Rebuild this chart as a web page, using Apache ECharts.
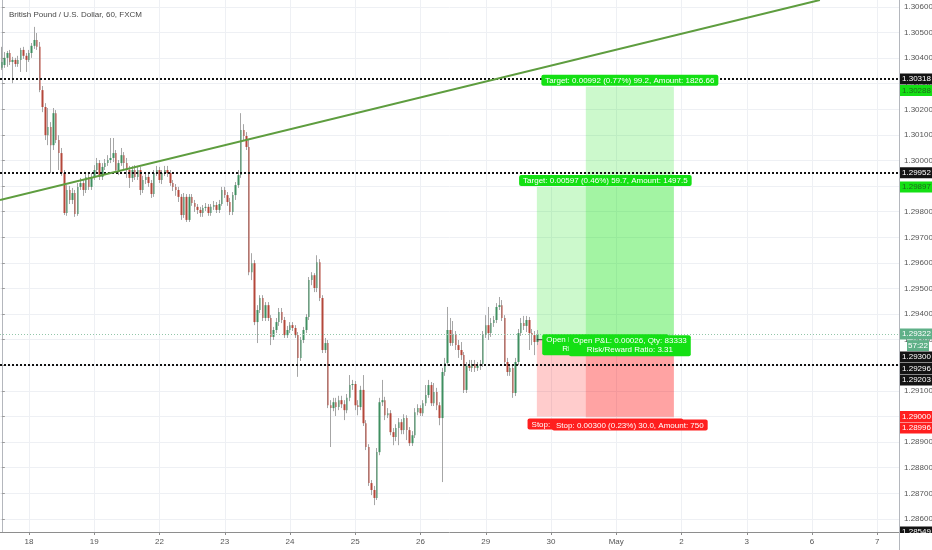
<!DOCTYPE html>
<html><head><meta charset="utf-8">
<script src="https://cdn.jsdelivr.net/npm/echarts@6/dist/echarts.min.js"></script>
<style>html,body{margin:0;padding:0;background:#fff}#c{width:932px;height:550px}</style>
</head><body><div id="c"></div>
<script>
const chartTitle = 'British Pound / U.S. Dollar, 60, FXCM';
// x axis: hourly bar index; day boundaries and their labels
const dayTicks = [10, 34, 58, 82, 106, 130, 154, 178, 202, 226, 250, 274, 298, 322];
const dayLabels = ['18', '19', '22', '23', '24', '25', '26', '29', '30', 'May', '2', '3', '6', '7'];
const priceTicks = [1.286,1.287,1.288,1.289,1.290,1.291,1.292,1.293,1.294,1.295,1.296,1.297,1.298,1.299,1.300,1.301,1.302,1.303,1.304,1.305,1.306];
const xRange = [-0.67, 330.0];
const yRange = [1.28549, 1.30627];

const opens = [1.30362,1.30373,1.30401,1.30420,1.30385,1.30393,1.30377,1.30393,1.30432,1.30409,
1.30393,1.30420,1.30448,1.30471,1.30444,1.30275,1.30209,1.30099,1.30131,1.30060,
1.30185,1.30080,1.30029,1.29951,1.29795,1.29885,1.29846,1.29873,1.29791,1.29897,
1.29912,1.29885,1.29936,1.29897,1.29936,1.29963,1.29990,1.29936,1.29975,1.29990,
1.30002,1.30010,1.30029,1.29963,1.29990,1.30021,1.29990,1.29963,1.29932,1.29963,
1.29936,1.29963,1.29885,1.29924,1.29936,1.29912,1.29869,1.29951,1.29963,1.29924,
1.29951,1.29963,1.29951,1.29912,1.29897,1.29885,1.29858,1.29787,1.29858,1.29768,
1.29858,1.29834,1.29819,1.29807,1.29795,1.29815,1.29819,1.29795,1.29819,1.29826,
1.29807,1.29830,1.29885,1.29865,1.29838,1.29799,1.29865,1.29904,1.29943,1.30119,
1.30096,1.30053,1.29564,1.29599,1.29369,1.29416,1.29463,1.29385,1.29435,1.29385,
1.29311,1.29338,1.29369,1.29408,1.29377,1.29318,1.29338,1.29357,1.29346,1.29318,
1.29229,1.29299,1.29338,1.29389,1.29533,1.29552,1.29502,1.29603,1.29463,1.29260,
1.29287,1.29044,1.29033,1.29056,1.29037,1.29064,1.29048,1.29025,1.29073,1.29123,
1.29127,1.29044,1.29037,1.29104,1.28974,1.28881,1.28740,1.28713,1.28682,1.28861,
1.29056,1.29064,1.29005,1.29013,1.28939,1.28920,1.28955,1.28978,1.28947,1.28994,
1.28947,1.28896,1.28927,1.29017,1.29033,1.29013,1.29052,1.29084,1.29123,1.29052,
1.29096,1.29044,1.28994,1.29174,1.29209,1.29338,1.29287,1.29318,1.29279,1.29260,
1.29240,1.29104,1.29198,1.29190,1.29205,1.29190,1.29198,1.29205,1.29318,1.29357,
1.29326,1.29365,1.29377,1.29428,1.29435,1.29385,1.29213,1.29174,1.29190,1.29092,
1.29213,1.29326,1.29365,1.29354,1.29377,1.29326,1.29318,1.29291];

const closes = [1.30385,1.30401,1.30420,1.30385,1.30393,1.30377,1.30393,1.30432,1.30409,1.30393,
1.30420,1.30448,1.30471,1.30444,1.30275,1.30209,1.30099,1.30131,1.30060,1.30185,
1.30080,1.30029,1.29951,1.29795,1.29885,1.29846,1.29873,1.29791,1.29897,1.29912,
1.29885,1.29936,1.29897,1.29936,1.29963,1.29990,1.29936,1.29975,1.29990,1.30002,
1.30010,1.30029,1.29963,1.29990,1.30021,1.29990,1.29963,1.29932,1.29963,1.29936,
1.29963,1.29885,1.29924,1.29936,1.29912,1.29869,1.29951,1.29963,1.29924,1.29951,
1.29963,1.29951,1.29912,1.29897,1.29885,1.29858,1.29787,1.29858,1.29768,1.29858,
1.29834,1.29819,1.29807,1.29795,1.29815,1.29819,1.29795,1.29819,1.29826,1.29807,
1.29830,1.29885,1.29865,1.29838,1.29799,1.29865,1.29904,1.29943,1.30119,1.30096,
1.30053,1.29564,1.29599,1.29369,1.29416,1.29463,1.29385,1.29435,1.29385,1.29311,
1.29338,1.29369,1.29408,1.29377,1.29318,1.29338,1.29357,1.29346,1.29318,1.29229,
1.29299,1.29338,1.29389,1.29533,1.29552,1.29502,1.29603,1.29463,1.29260,1.29287,
1.29044,1.29033,1.29056,1.29037,1.29064,1.29048,1.29025,1.29073,1.29123,1.29127,
1.29044,1.29037,1.29104,1.28974,1.28881,1.28740,1.28713,1.28682,1.28861,1.29056,
1.29064,1.29005,1.29013,1.28939,1.28920,1.28955,1.28978,1.28947,1.28994,1.28947,
1.28896,1.28927,1.29017,1.29033,1.29013,1.29052,1.29084,1.29123,1.29052,1.29096,
1.29044,1.28994,1.29174,1.29209,1.29338,1.29287,1.29318,1.29279,1.29260,1.29240,
1.29104,1.29198,1.29190,1.29205,1.29190,1.29198,1.29205,1.29318,1.29357,1.29326,
1.29365,1.29377,1.29428,1.29435,1.29385,1.29213,1.29174,1.29190,1.29092,1.29213,
1.29326,1.29365,1.29354,1.29377,1.29326,1.29318,1.29291,1.29322];

const lows = [1.30354,1.30362,1.30366,1.30373,1.30302,1.30366,1.30366,1.30346,1.30397,1.30346,
1.30385,1.30401,1.30436,1.30432,1.30267,1.30189,1.30080,1.30060,1.29951,1.30041,
1.30068,1.29963,1.29940,1.29787,1.29784,1.29830,1.29830,1.29780,1.29784,1.29885,
1.29862,1.29873,1.29885,1.29885,1.29924,1.29951,1.29924,1.29924,1.29963,1.29979,
1.29990,1.29994,1.29951,1.29943,1.29979,1.29963,1.29932,1.29893,1.29916,1.29924,
1.29924,1.29865,1.29873,1.29908,1.29897,1.29854,1.29858,1.29940,1.29912,1.29908,
1.29940,1.29936,1.29901,1.29881,1.29862,1.29838,1.29768,1.29776,1.29760,1.29760,
1.29823,1.29799,1.29791,1.29780,1.29780,1.29803,1.29784,1.29784,1.29807,1.29795,
1.29795,1.29823,1.29854,1.29823,1.29787,1.29787,1.29846,1.29893,1.29932,1.30080,
1.30041,1.29552,1.29533,1.29357,1.29287,1.29404,1.29373,1.29373,1.29373,1.29279,
1.29299,1.29326,1.29354,1.29365,1.29307,1.29307,1.29326,1.29334,1.29307,1.29155,
1.29217,1.29287,1.29326,1.29377,1.29513,1.29486,1.29486,1.29451,1.29248,1.29248,
1.29033,1.28881,1.29021,1.29002,1.29025,1.29033,1.28986,1.29013,1.29060,1.29104,
1.29025,1.29005,1.29025,1.28963,1.28869,1.28729,1.28693,1.28654,1.28674,1.28849,
1.29041,1.28986,1.28994,1.28927,1.28888,1.28904,1.28888,1.28931,1.28931,1.28908,
1.28885,1.28885,1.28916,1.29005,1.29002,1.29002,1.29041,1.29073,1.29041,1.29041,
1.29025,1.28966,1.28744,1.29159,1.29198,1.29276,1.29276,1.29260,1.29229,1.29221,
1.29092,1.29092,1.29178,1.29174,1.29174,1.29178,1.29182,1.29194,1.29307,1.29299,
1.29311,1.29350,1.29365,1.29416,1.29373,1.29198,1.29159,1.29159,1.29073,1.29080,
1.29201,1.29315,1.29338,1.29330,1.29260,1.29279,1.29240,1.29279];

const highs = [1.30444,1.30424,1.30428,1.30432,1.30405,1.30401,1.30409,1.30440,1.30444,1.30420,
1.30432,1.30459,1.30522,1.30498,1.30463,1.30291,1.30224,1.30205,1.30150,1.30205,
1.30197,1.30099,1.30049,1.29963,1.29904,1.29901,1.29893,1.29885,1.29912,1.29932,
1.29924,1.29947,1.29951,1.29951,1.29982,1.30010,1.30002,1.29990,1.30006,1.30021,
1.30088,1.30088,1.30041,1.30002,1.30049,1.30033,1.30010,1.29979,1.29979,1.29982,
1.29979,1.29975,1.29940,1.29951,1.29947,1.29924,1.29963,1.29979,1.29975,1.29963,
1.29979,1.29979,1.29963,1.29924,1.29908,1.29897,1.29869,1.29873,1.29869,1.29869,
1.29869,1.29846,1.29830,1.29819,1.29826,1.29834,1.29830,1.29830,1.29842,1.29838,
1.29846,1.29897,1.29897,1.29877,1.29854,1.29877,1.29916,1.29963,1.30185,1.30142,
1.30111,1.30080,1.29638,1.29611,1.29435,1.29474,1.29474,1.29447,1.29447,1.29396,
1.29350,1.29385,1.29424,1.29424,1.29389,1.29354,1.29369,1.29369,1.29357,1.29330,
1.29311,1.29350,1.29400,1.29545,1.29564,1.29560,1.29630,1.29615,1.29474,1.29307,
1.29299,1.29064,1.29073,1.29073,1.29081,1.29081,1.29064,1.29088,1.29162,1.29143,
1.29139,1.29064,1.29120,1.29162,1.28986,1.28892,1.28752,1.28729,1.28877,1.29073,
1.29143,1.29077,1.29033,1.29025,1.28955,1.28970,1.28994,1.28990,1.29009,1.29005,
1.28959,1.28943,1.29033,1.29048,1.29044,1.29064,1.29123,1.29143,1.29135,1.29131,
1.29112,1.29056,1.29190,1.29229,1.29428,1.29385,1.29373,1.29334,1.29299,1.29291,
1.29252,1.29213,1.29221,1.29221,1.29221,1.29213,1.29221,1.29334,1.29396,1.29428,
1.29385,1.29393,1.29443,1.29467,1.29455,1.29396,1.29229,1.29205,1.29201,1.29229,
1.29342,1.29385,1.29393,1.29393,1.29389,1.29342,1.29334,1.29338];

// drawings
const trendLine = [[-0.67, 1.29846], [300.9, 1.30627]];
const levelLines = [1.30318, 1.29952, 1.29203];
const lastPrice = 1.29322;
const timerText = '57:22';
const toolStart = [196.8, 214.8];
const toolEnd = [247.2, 247.2];
const toolEntry = [1.29300, 1.29296];
const toolTarget = [1.29897, 1.30288];
const toolStop = [1.29000, 1.28996];
const targetText = ['Target: 0.00597 (0.46%) 59.7, Amount: 1497.5', 'Target: 0.00992 (0.77%) 99.2, Amount: 1826.66'];
const stopText = ['Stop: 0.00300 (0.23%) 30.0, Amount: 750', 'Stop: 0.00300 (0.23%) 30.0, Amount: 750'];
const openText = [['Open P&L: 0.00022, Qty: 250000', 'Risk/Reward Ratio: 1.99'], ['Open P&L: 0.00026, Qty: 83333', 'Risk/Reward Ratio: 3.31']];
const markPrices = [1.30318, 1.30288, 1.29952, 1.29897, 1.29322, 1.29322, 1.29300, 1.29296, 1.29203, 1.29000, 1.28996, 1.28549];
const markKinds = ['level', 'target', 'level', 'target', 'last', 'timer', 'entry', 'entry', 'level', 'stop', 'stop', 'level'];

const FONT = "'Liberation Sans', Arial, sans-serif";
const NARROW = "'Liberation Sans Narrow', 'Liberation Sans', Arial, sans-serif";
const UP = '#3f8f60', DOWN = '#b4473a', WICK = '#a6a6a6';
const GREEN = '#14e014', RED = '#ff1f1f', DARK = '#131313', LASTC = '#5fb088';

const idx = opens.map((_, k) => k);
const fullCandles = idx.map(k => [k, opens[k], closes[k], lows[k], highs[k]]);
const bodyCandles = idx.map(k => [k, opens[k], closes[k], Math.min(opens[k], closes[k]), Math.max(opens[k], closes[k])]);

const zoneData = [];
for (let t = 0; t < toolStart.length; t++) {
  zoneData.push([{coord: [toolStart[t], toolTarget[t]], itemStyle: {color: 'rgba(0,225,0,0.2)'}}, {coord: [toolEnd[t], toolEntry[t]]}]);
  zoneData.push([{coord: [toolStart[t], toolEntry[t]], itemStyle: {color: 'rgba(255,0,0,0.2)'}}, {coord: [toolEnd[t], toolStop[t]]}]);
}

const option = {
  animation: false,
  backgroundColor: '#ffffff',
  title: {text: chartTitle, left: 4, top: 6, textStyle: {fontSize: 8, color: '#474747', fontWeight: 'normal', fontFamily: NARROW}},
  grid: {left: 0, right: 33, top: 0, bottom: 18, containLabel: false, outerBoundsMode: 'none'},
  xAxis: {
    type: 'value', min: xRange[0], max: xRange[1],
    axisLine: {show: true, lineStyle: {color: '#8e8e8e', width: 1}},
    axisTick: {show: true, customValues: dayTicks, length: 3, lineStyle: {color: '#8e8e8e'}},
    axisLabel: {customValues: dayTicks, formatter: v => dayLabels[dayTicks.indexOf(Math.round(v))] || '', color: '#555', fontSize: 8, fontFamily: NARROW, margin: 6},
    splitLine: {show: true, lineStyle: {color: '#eef0f4', width: 1}}
  },
  yAxis: {
    type: 'value', position: 'right', min: yRange[0], max: yRange[1], scale: true,
    axisLine: {show: true, lineStyle: {color: '#b4b7bd', width: 1}},
    axisTick: {show: true, customValues: priceTicks, length: 3, lineStyle: {color: '#9a9a9a'}},
    axisLabel: {customValues: priceTicks, formatter: v => v.toFixed(5), color: '#555', fontSize: 8, fontFamily: NARROW, margin: 5},
    splitLine: {show: true, lineStyle: {color: '#eef0f4', width: 1}}
  },
  series: [
    {name: 'zones', type: 'line', data: [], z: 1, silent: true,
      markArea: {silent: true, data: zoneData}},
    {name: 'wicks', type: 'candlestick', data: fullCandles, z: 2, barWidth: 0.01, silent: true,
      encode: {x: 0, y: [1, 2, 3, 4]},
      itemStyle: {color: WICK, color0: WICK, borderColor: WICK, borderColor0: WICK, borderWidth: 1}},
    {name: 'bodies', type: 'candlestick', data: bodyCandles, z: 3, barWidth: 2, silent: true,
      encode: {x: 0, y: [1, 2, 3, 4]},
      itemStyle: {color: UP, color0: DOWN, borderColor: UP, borderColor0: DOWN, borderWidth: 0}},
    {name: 'levels', type: 'line', data: [], z: 4, silent: true,
      markLine: {silent: true, precision: 5, symbol: ['none', 'none'], label: {show: false},
        data: levelLines.map(v => ({yAxis: v, lineStyle: {color: '#111', width: 2, type: [2, 2]}}))
          .concat([{yAxis: lastPrice, lineStyle: {color: '#93c6aa', width: 1, type: [1, 2]}}])}},
    {name: 'trend', type: 'line', data: trendLine, z: 5, silent: true, symbol: 'none',
      lineStyle: {color: '#5e9d3f', width: 2}}
  ]
};

const chart = echarts.init(document.getElementById('c'), null, {renderer: 'canvas'});
chart.setOption(option);

const P = (x, y) => chart.convertToPixel({gridIndex: 0}, [x, y]);
const Y = v => chart.convertToPixel({yAxisIndex: 0}, v);
const g = [];
for (let t = 0; t < toolStart.length; t++) {
  const xa = P(toolStart[t], toolEntry[t])[0], xb = P(toolEnd[t], toolEntry[t])[0];
  const cx = (xa + xb) / 2;
  const base = {align: 'center', fill: '#fff', font: '8px ' + FONT, padding: [2, 4, 1, 4], borderRadius: 2};
  g.push({type: 'text', z: 50 + t * 3, silent: true, style: Object.assign({}, base, {text: targetText[t], x: cx, y: Y(toolTarget[t]) - 1, verticalAlign: 'bottom', backgroundColor: GREEN})});
  g.push({type: 'text', z: 51 + t * 3, silent: true, style: Object.assign({}, base, {text: stopText[t], x: cx, y: Y(toolStop[t]) + 2, verticalAlign: 'top', backgroundColor: RED})});
  g.push({type: 'text', z: 52 + t * 3, silent: true, style: Object.assign({}, base, {text: openText[t].join('\n'), x: cx, y: Y(toolEntry[t]) + 5, verticalAlign: 'middle', lineHeight: 9, backgroundColor: GREEN})});
}
// connector from last bar to the info box
const ey = Y(toolEntry[0]);
const ex = P(toolStart[0], toolEntry[0])[0];
g.push({type: 'line', z: 49, silent: true, shape: {x1: ex, y1: ey, x2: ex + 9, y2: ey}, style: {stroke: '#333', lineWidth: 1}});

// price-axis labels, stacked to avoid overlap
const axX = P(xRange[1], yRange[0])[0];
let prevY = -100;
const styles = {level: [DARK, '#fff'], entry: [DARK, '#fff'], target: [GREEN, '#1d6b1d'], stop: [RED, '#fff'], last: [LASTC, '#fff'], timer: [LASTC, '#fff']};
for (let k = 0; k < markPrices.length; k++) {
  let yy = Math.max(Y(markPrices[k]), prevY + 11.5);
  prevY = yy;
  const kind = markKinds[k];
  const [bg, fg] = styles[kind];
  const txt = kind === 'timer' ? timerText : markPrices[k].toFixed(5);
  const bx = kind === 'timer' ? axX + 8 : axX + 1;
  const bw = kind === 'timer' ? 22 : 33;
  g.push({type: 'rect', z: 60, silent: true, shape: {x: bx, y: yy - 5.5, width: bw, height: 11}, style: {fill: bg}});
  g.push({type: 'text', z: 61, silent: true, style: {text: txt, x: bx + bw / 2, y: yy, align: 'center', verticalAlign: 'middle', fill: fg, font: '8px ' + NARROW}});
}
// bottom-right corner below the plot and the axis line continuing down
const bottomY = Y(yRange[0]);
g.push({type: 'rect', z: 62, silent: true, shape: {x: axX + 0.5, y: bottomY + 1, width: 40, height: 30}, style: {fill: '#fff'}});
g.push({type: 'line', z: 63, silent: true, shape: {x1: axX + 0.5, y1: 0, x2: axX + 0.5, y2: 550}, style: {stroke: '#b4b7bd', lineWidth: 1}});
chart.setOption({graphic: g});
</script>
</body></html>
